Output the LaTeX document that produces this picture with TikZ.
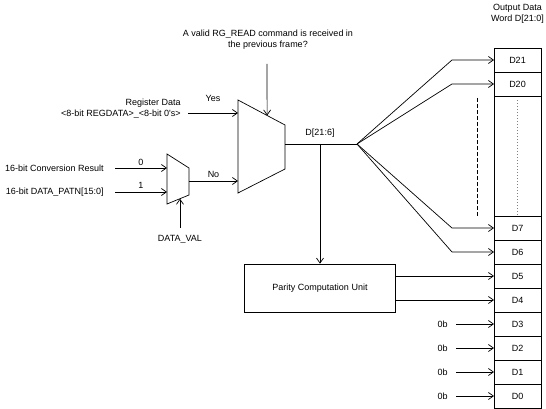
\documentclass[tikz,border=0pt]{standalone}
\usepackage{fontspec}
\setmainfont{Liberation Sans}
\usetikzlibrary{positioning,calc,arrows.meta}

\begin{document}
\begin{tikzpicture}[x=1pt,y=-1pt,line width=0.7pt,
    >={Straight Barb[length=5pt,width=7pt]},
    lbl/.style={font=\fontsize{9}{11}\selectfont,inner sep=1pt},
    bit/.style={draw,lbl,minimum width=47pt,minimum height=24pt,inner sep=0pt,outer sep=0pt},
    src/.style={lbl,anchor=east,inner xsep=11pt}]
    \useasboundingbox (0,0) rectangle (546,409);

    % output word
    \node[bit] (d21) at (517.5,60) {D21};
    \node[bit] (d20) [below=0pt of d21] {D20};
    \node[bit,minimum height=120pt] (gap) [below=0pt of d20] {};
    \node[bit] (d7) [below=0pt of gap] {D7};
    \node[bit] (d6) [below=0pt of d7] {D6};
    \foreach \i in {5,...,0}{
        \pgfmathtruncatemacro\p{\i+1}
        \node[bit] (d\i) [below=0pt of d\p] {D\i};
    }
    \node[lbl,align=center] (title) [above=23pt of d21] {Output Data\\Word D[21:0]};
    \draw[gray,line width=0.5pt,dash pattern=on 1pt off 2pt] ([yshift=-4pt]gap.north) -- (gap.south);
    \draw[dashed,dash pattern=on 4pt off 2pt] (477,98) -- (477,216);

    % big mux
    \coordinate (m1a) at (238,100);
    \coordinate (m1b) at (285,125);
    \coordinate (m1c) at (285,169);
    \coordinate (m1d) at (238,193);
    \draw (m1a) -- (m1b) -- (m1c) -- (m1d) -- cycle;
    \coordinate (m1sel) at ($(m1a)!0.62!(m1b)$);
    \coordinate (m1yes) at (238,113);
    \coordinate (m1no) at (238,181);
    \coordinate (m1out) at (285,144);
    \coordinate (tap) at (320,144);
    \coordinate (fan) at (357,144);
    \coordinate (bx) at (452,0);

    \node[lbl,align=center] (q) at (268,40) {A valid RG\_READ command is received in\\the previous frame?};
    \coordinate (qsrc) at (267,64);
    \draw[->] (qsrc) -- (m1sel);

    \node[lbl,align=right,anchor=east] (reg) at (182,109) {Register Data\\<8-bit REGDATA>\_<8-bit 0\textquotesingle s>};
    \coordinate (regsrc) at (188,113);
    \draw[->] (regsrc) -- node[lbl,above=10pt] (yes) {Yes} (m1yes);

    % small mux
    \coordinate (m2a) at (167,154);
    \coordinate (m2b) at (189,168);
    \coordinate (m2c) at (189,195);
    \coordinate (m2d) at (167,204);
    \draw (m2a) -- (m2b) -- (m2c) -- (m2d) -- cycle;
    \coordinate (m2sel) at ($(m2c)!0.41!(m2d)$);
    \coordinate (m2in0) at (167,168);
    \coordinate (m2in1) at (167,192);
    \coordinate (m2out) at (189,181);

    \node[src] (conv) at (115,168) {16-bit Conversion Result};
    \node[src] (patn) at (115,192) {16-bit DATA\_PATN[15:0]};
    \draw[->] (conv) -- node[lbl,above=1pt] (zero) {0} (m2in0);
    \draw[->] (patn) -- node[lbl,above=2pt] (one) {1} (m2in1);
    \draw[->] (m2out) -- node[lbl,above=2pt] (no) {No} (m1no);
    \draw[<-] (m2sel) -- ++(0,29.5) coordinate (dvsrc) node[lbl,below=6pt] (dv) {DATA\_VAL};

    % D[21:6]
    \node[lbl] (dlab) at (320,133) {D[21:6]};
    \draw (m1out) -- (fan);
    \foreach \x in {d21,d20,d7,d6}{
        \draw[->] (fan) -- (bx |- \x) -- (\x);
    }

    % parity
    \node[draw,lbl,minimum width=151pt,minimum height=48pt,inner sep=0pt] (par) at (320,288) {Parity Computation Unit};
    \draw[->] (tap) -- (par);
    \foreach \x in {d5,d4}{
        \draw[->] (par.east |- \x) -- (\x);
    }

    % constant bits
    \foreach \x in {d3,d2,d1,d0}{
        \node[lbl,inner xsep=8pt] (z\x) [left=38pt of \x] {0b};
        \draw[->] (z\x) -- (\x);
    }
\end{tikzpicture}
\end{document}
